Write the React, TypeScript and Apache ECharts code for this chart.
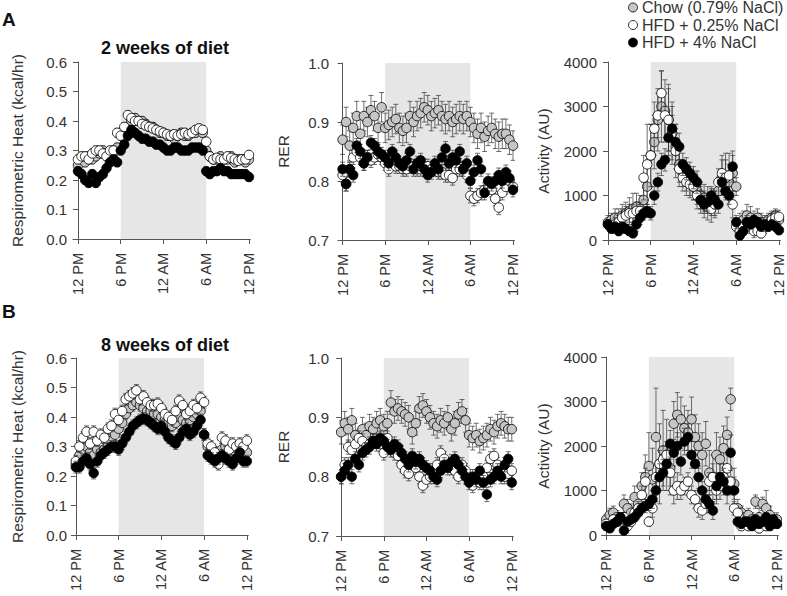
import React, { useEffect, useRef } from "react";
import * as echarts from "echarts";

// ---------- DATA ----------
const HOURS = [0,0.5,1,1.5,2,2.5,3,3.5,4,4.5,5,5.5,6,6.5,7,7.5,8,8.5,9,9.5,10,10.5,11,11.5,12,12.5,13,13.5,14,14.5,15,15.5,16,16.5,17,17.5,18,18.5,19,19.5,20,20.5,21,21.5,22,22.5,23,23.5,24];
const TICK_HOURS = [0, 6, 12, 18, 24];
const TICK_LABELS = ["12 PM", "6 PM", "12 AM", "6 AM", "12 PM"];
const GROUPS = ["Chow (0.79% NaCl)", "HFD + 0.25% NaCl", "HFD + 4% NaCl"];

// Panel A, 2 weeks — Respirometric heat (kcal/hr)
const heatA_chow = [.25,.27,.26,.28,.27,.28,.29,.30,.29,.28,.29,.31, .36,.34,.38,.40,.41,.40,.40,.39,.38,.38,.37,.36, .36,.35,.35,.34,.35,.36,.35,.35,.36,.36,.37,.36, .30,.28,.27,.27,.28,.27,.27,.28,.26,.27,.27,.26,.27];
const heatA_hfd025 = [.27,.28,.28,.27,.29,.30,.30,.29,.28,.30,.30,.36, .35,.38,.42,.41,.40,.40,.39,.385,.38,.375,.37,.365, .36,.355,.35,.355,.35,.355,.36,.355,.36,.37,.375,.37, .33,.28,.27,.275,.27,.27,.28,.275,.27,.265,.27,.27,.285];
const heatA_hfd4 = [.23,.22,.20,.19,.22,.19,.21,.22,.24,.26,.27,.26, .30,.32,.35,.37,.36,.35,.34,.34,.33,.33,.32,.32, .31,.30,.30,.31,.31,.30,.30,.30,.31,.31,.31,.30, .23,.22,.23,.23,.24,.23,.23,.22,.22,.22,.22,.22,.21];
const heatA_err = [0.015, 0.015, 0.015];

// Panel A — RER
const rerA_chow = [.87,.90,.86,.89,.91,.88,.91,.90,.92,.91,.89,.925, .89,.895,.90,.905,.89,.885,.89,.91,.90,.91,.915,.925, .92,.91,.915,.92,.91,.905,.91,.90,.905,.91,.905,.91, .90,.89,.88,.89,.875,.885,.89,.88,.875,.88,.88,.87,.86];
const rerA_hfd025 = [.81,.795,.82,.84,.85,.84,.83,.84,.835,.84,.845,.84, .83,.82,.83,.825,.825,.82,.82,.825,.825,.82,.82,.825, .825,.82,.82,.815,.815,.81,.81,.805,.82,.82,.82,.81, .775,.77,.775,.78,.785,.79,.785,.77,.755,.78,.79,.80,.79];
const rerA_hfd4 = [.82,.795,.82,.81,.86,.85,.83,.84,.865,.86,.85,.845, .84,.83,.85,.84,.83,.825,.835,.85,.82,.83,.835,.82, .81,.815,.83,.82,.84,.855,.83,.84,.835,.85,.82,.83, .80,.815,.835,.82,.78,.80,.795,.80,.81,.80,.815,.805,.785];
const rerA_err = [0.025, 0.012, 0.012];

// Panel A — Activity (AU)
const actA_chow = [400,450,500,500,550,600,650,700,750,700,900,1200, 1900,2200,2700,3000,2900,2700,2400,2100,1700,1500,1400,1300, 1200,1100,1000,950,900,850,850,1100,1400,1450,1300,1500, 1200,400,450,550,500,450,500,400,400,450,500,550,450];
const actA_hfd025 = [350,300,350,400,500,550,600,600,650,650,1400,1700, 1900,2500,2800,3300,2800,2700,2400,2000,1600,1400,1300,1250, 1200,1000,900,800,750,700,800,1300,1500,1400,1450,800, 300,200,300,400,300,200,200,150,300,350,450,500,520];
const actA_hfd4 = [350,250,300,200,300,250,200,150,350,500,600,650, 600,1000,1300,1700,1800,2300,2500,2200,2100,1700,1600,1500, 1400,1300,900,800,850,1000,900,800,1300,1100,1000,1650, 400,100,200,400,350,450,400,300,350,300,350,300,220];
const actA_chow_err = [150,150,200,200,250,250,300,350,300,300,400,500, 700,600,700,800,700,700,600,500,400,300,300,300, 300,300,300,300,300,300,300,300,400,500,400,400, 200,200,200,250,250,200,200,200,150,150,150,150,150];
const actA_hfd025_err = [100,100,150,150,200,200,200,200,200,200,500,900, 700,600,500,500,500,800,700,600,400,300,300,300, 300,300,300,300,300,300,300,300,400,400,500,300, 100,100,100,150,150,150,100,100,150,150,150,150,150];
const actA_hfd4_err = [100,100,100,100,100,100,100,100,150,150,150,150, 150,200,200,250,250,300,300,300,300,250,250,250, 250,250,200,200,200,200,200,200,200,200,200,350, 150,100,100,100,100,100,100,100,100,100,100,100,100];

// Panel B, 8 weeks — Respirometric heat
const heatB_chow = [.24,.27,.29,.30,.28,.27,.29,.28,.29,.31,.32,.34, .36,.38,.41,.43,.44,.45,.44,.43,.42,.42,.41,.41, .40,.39,.38,.37,.38,.40,.39,.38,.39,.40,.41,.42, .34,.30,.29,.28,.27,.29,.30,.28,.29,.28,.29,.28,.28];
const heatB_hfd025 = [.25,.30,.33,.35,.31,.35,.32,.34,.33,.36,.37,.41, .39,.42,.46,.47,.48,.49,.46,.47,.45,.44,.44,.445, .43,.41,.40,.39,.42,.455,.44,.41,.42,.44,.43,.465, .45,.31,.30,.28,.24,.33,.32,.29,.31,.30,.31,.30,.32];
const heatB_hfd4 = [.23,.23,.25,.26,.24,.21,.25,.27,.28,.29,.30,.30, .29,.31,.33,.35,.37,.38,.39,.395,.39,.38,.37,.36, .37,.35,.33,.32,.31,.33,.35,.36,.34,.35,.37,.39, .34,.27,.26,.25,.26,.27,.26,.25,.24,.26,.28,.25,.25];
const heatB_err = [0.02, 0.02, 0.02];

// Panel B — RER
const rerB_chow = [.875,.89,.88,.895,.87,.86,.88,.87,.885,.88,.89,.895, .885,.89,.925,.91,.915,.91,.905,.90,.875,.89,.915,.92, .91,.90,.89,.885,.895,.89,.90,.88,.89,.905,.91,.895, .87,.865,.87,.86,.865,.87,.88,.875,.885,.89,.885,.88,.88];
const rerB_hfd025 = [.80,.82,.85,.845,.855,.865,.86,.85,.855,.86,.86,.855, .84,.865,.85,.84,.835,.82,.81,.805,.82,.815,.80,.785, .795,.80,.81,.82,.84,.83,.82,.815,.81,.80,.82,.81, .795,.785,.80,.79,.80,.815,.83,.835,.82,.81,.80,.805,.81];
const rerB_hfd4 = [.80,.81,.82,.80,.83,.82,.84,.845,.85,.86,.855,.865, .86,.85,.845,.855,.85,.84,.83,.82,.835,.825,.83,.82, .815,.81,.80,.795,.81,.82,.815,.825,.83,.82,.81,.80, .79,.80,.795,.81,.79,.77,.795,.80,.81,.80,.82,.83,.79];
const rerB_err = [0.02, 0.012, 0.012];

// Panel B — Activity
const actB_chow = [350,450,500,400,350,700,600,500,850,700,1100,1300, 1550,1250,2200,1600,1900,1800,1500,2500,2700,2600,2400,2300, 2600,2200,2000,1800,2050,1400,1300,1800,1700,1950,2250,3050, 1150,600,500,400,450,350,750,400,700,600,450,300,350];
const actB_hfd025 = [250,200,350,300,400,400,200,300,500,600,900,1200, 300,600,1300,1600,1700,1800,1400,1000,1100,1000,1100,1200, 900,800,600,550,700,1200,1300,1000,1100,1300,1500,1200, 600,500,200,300,200,300,250,150,300,200,250,300,250];
const actB_hfd4 = [200,150,250,300,400,100,300,350,400,500,600,650, 700,800,1000,1300,1400,1600,2050,1850,2000,1650,2100,2200, 1800,1600,1300,1000,800,700,550,1100,1300,1200,1000,1850, 1000,300,250,300,300,200,350,250,300,400,200,350,250];
const actB_chow_err = [100,150,150,150,150,200,200,200,250,200,300,500, 750,700,1100,900,900,800,600,500,500,500,500,500, 500,500,500,500,500,500,500,500,500,500,400,250, 350,200,150,150,150,150,150,200,150,400,200,150,150];
const actB_hfd025_err = [100,100,100,100,100,100,100,100,150,150,200,300, 100,200,300,300,300,300,300,300,300,200,200,200, 200,200,200,200,200,200,300,300,300,300,300,300, 150,100,100,100,100,100,100,100,100,100,100,100,100];
const actB_hfd4_err = [50,50,80,80,80,50,80,80,100,100,100,150, 150,200,250,300,300,300,300,300,300,300,300,300, 300,300,250,200,200,200,200,300,300,300,300,400, 300,100,100,100,100,100,100,100,100,100,100,100,100];

// ---------- STYLE / LAYOUT ----------
const FONT = "'Liberation Sans', Arial, Helvetica, sans-serif";
const FILLS = ["#c6c6c6", "#ffffff", "#000000"];
const AXIS_COLOR = "#555";
const TEXT_COLOR = "#333";

const PANELS = [
  { grid: { left: 73, top: 62, width: 177.4, height: 177 }, xMin: -0.7, yMin: 0, yMax: 0.6, yInt: 0.1, dec: 1, name: "Respirometric Heat (kcal/hr)", nameGap: 48, labelMargin: 6,
    vals: [heatA_chow, heatA_hfd025, heatA_hfd4], errs: heatA_err.map((e) => HOURS.map(() => e)) },
  { grid: { left: 339, top: 63, width: 175.4, height: 177 }, xMin: -0.5, yMin: 0.7, yMax: 1.0, yInt: 0.1, dec: 1, name: "RER", nameGap: 48, labelMargin: 10,
    vals: [rerA_chow, rerA_hfd025, rerA_hfd4], errs: rerA_err.map((e) => HOURS.map(() => e)) },
  { grid: { left: 603, top: 62, width: 177.4, height: 178 }, xMin: -0.7, yMin: 0, yMax: 4000, yInt: 1000, dec: 0, name: "Activity (AU)", nameGap: 52, labelMargin: 6,
    vals: [actA_chow, actA_hfd025, actA_hfd4], errs: [actA_chow_err, actA_hfd025_err, actA_hfd4_err] },
  { grid: { left: 73, top: 358, width: 175.3, height: 177 }, xMin: -0.4, yMin: 0, yMax: 0.6, yInt: 0.1, dec: 1, name: "Respirometric Heat (kcal/hr)", nameGap: 48, labelMargin: 6,
    vals: [heatB_chow, heatB_hfd025, heatB_hfd4], errs: heatB_err.map((e) => HOURS.map(() => e)) },
  { grid: { left: 339, top: 358, width: 174.2, height: 178 }, xMin: -0.3, yMin: 0.7, yMax: 1.0, yInt: 0.1, dec: 1, name: "RER", nameGap: 48, labelMargin: 10,
    vals: [rerB_chow, rerB_hfd025, rerB_hfd4], errs: rerB_err.map((e) => HOURS.map(() => e)) },
  { grid: { left: 603, top: 357, width: 175.3, height: 178 }, xMin: -0.45, yMin: 0, yMax: 4000, yInt: 1000, dec: 0, name: "Activity (AU)", nameGap: 52, labelMargin: 6,
    vals: [actB_chow, actB_hfd025, actB_hfd4], errs: [actB_chow_err, actB_hfd025_err, actB_hfd4_err] },
];

function errorRender(params: any, api: any) {
  const x = api.value(0);
  const y = api.value(1);
  const e = api.value(2);
  const top = api.coord([x, y + e]);
  const bot = api.coord([x, y - e]);
  const cw = 2.5;
  const st = { stroke: "#333", lineWidth: 0.7 };
  return {
    type: "group",
    children: [
      { type: "line", shape: { x1: top[0], y1: top[1], x2: bot[0], y2: bot[1] }, style: st },
      { type: "line", shape: { x1: top[0] - cw, y1: top[1], x2: top[0] + cw, y2: top[1] }, style: st },
      { type: "line", shape: { x1: bot[0] - cw, y1: bot[1], x2: bot[0] + cw, y2: bot[1] }, style: st },
    ],
  };
}

function buildOption() {
  const grid: any[] = [];
  const xAxis: any[] = [];
  const yAxis: any[] = [];
  const series: any[] = [];
  PANELS.forEach((p, pi) => {
    grid.push({ ...p.grid, containLabel: false });
    xAxis.push({
      type: "value", gridIndex: pi, min: p.xMin, max: 24.2,
      axisLine: { show: true, lineStyle: { color: AXIS_COLOR, width: 1 } },
      axisTick: { show: true, customValues: TICK_HOURS, length: 5, lineStyle: { color: AXIS_COLOR } },
      axisLabel: {
        customValues: TICK_HOURS, rotate: 90, margin: 14, fontSize: 14.5, color: TEXT_COLOR, fontFamily: FONT,
        formatter: (v: number) => TICK_LABELS[TICK_HOURS.indexOf(v)] ?? "",
      },
      splitLine: { show: false },
    });
    yAxis.push({
      type: "value", gridIndex: pi, min: p.yMin, max: p.yMax, interval: p.yInt,
      axisLine: { show: true, lineStyle: { color: AXIS_COLOR, width: 1 } },
      axisTick: { show: true, length: 5, lineStyle: { color: AXIS_COLOR } },
      axisLabel: { fontSize: 15, color: TEXT_COLOR, fontFamily: FONT, margin: p.labelMargin, formatter: (v: number) => v.toFixed(p.dec) },
      splitLine: { show: false },
      name: p.name, nameLocation: "middle", nameGap: p.nameGap, nameRotate: 90,
      nameTextStyle: { fontSize: 15.5, color: TEXT_COLOR, fontFamily: FONT },
    });
    // dark-phase shading
    series.push({
      type: "line", xAxisIndex: pi, yAxisIndex: pi, data: [[6, p.yMin], [18, p.yMin]],
      symbol: "none", lineStyle: { opacity: 0 }, silent: true, z: 0,
      markArea: { silent: true, itemStyle: { color: "#e6e6e6" }, data: [[{ xAxis: 6 }, { xAxis: 18 }]] },
    });
    GROUPS.forEach((g, gi) => {
      series.push({
        type: "custom", name: g + " SEM", xAxisIndex: pi, yAxisIndex: pi, clip: true, z: 2 + gi * 2,
        renderItem: errorRender, encode: { x: 0, y: 1 },
        data: HOURS.map((h, i) => [h, p.vals[gi][i], p.errs[gi][i]]),
      });
      series.push({
        type: "scatter", name: g, xAxisIndex: pi, yAxisIndex: pi, z: 3 + gi * 2,
        symbol: "circle", symbolSize: 9.5,
        itemStyle: { color: FILLS[gi], borderColor: "#000", borderWidth: 0.8, opacity: 1 },
        data: HOURS.map((h, i) => [h, p.vals[gi][i]]),
      });
    });
  });

  const graphic: any[] = [
    { type: "text", x: 2, y: 19, style: { text: "A", font: `bold 19px ${FONT}`, fill: "#111", textVerticalAlign: "middle" } },
    { type: "text", x: 2, y: 311, style: { text: "B", font: `bold 19px ${FONT}`, fill: "#111", textVerticalAlign: "middle" } },
    { type: "text", x: 165, y: 48, style: { text: "2 weeks of diet", font: `bold 18px ${FONT}`, fill: "#111", textAlign: "center", textVerticalAlign: "middle" } },
    { type: "text", x: 165, y: 345, style: { text: "8 weeks of diet", font: `bold 18px ${FONT}`, fill: "#111", textAlign: "center", textVerticalAlign: "middle" } },
  ];
  const legendY = [7.5, 25, 42.5];
  GROUPS.forEach((g, gi) => {
    graphic.push({ type: "circle", shape: { cx: 633, cy: legendY[gi], r: 4.5 }, style: { fill: FILLS[gi], stroke: "#000", lineWidth: 0.8 } });
    graphic.push({ type: "text", x: 642, y: legendY[gi], style: { text: g, font: `16px ${FONT}`, fill: TEXT_COLOR, textVerticalAlign: "middle" } });
  });

  return { animation: false, backgroundColor: "#fff", grid, xAxis, yAxis, series, graphic };
}

export default function App() {
  const ref = useRef<HTMLDivElement>(null);
  useEffect(() => {
    if (!ref.current) return;
    const chart = echarts.init(ref.current, undefined, { renderer: "svg" });
    chart.setOption(buildOption() as any);
    return () => chart.dispose();
  }, []);
  return <div ref={ref} style={{ position: "fixed", left: 0, top: 0, width: 787, height: 596, background: "#fff" }} />;
}
